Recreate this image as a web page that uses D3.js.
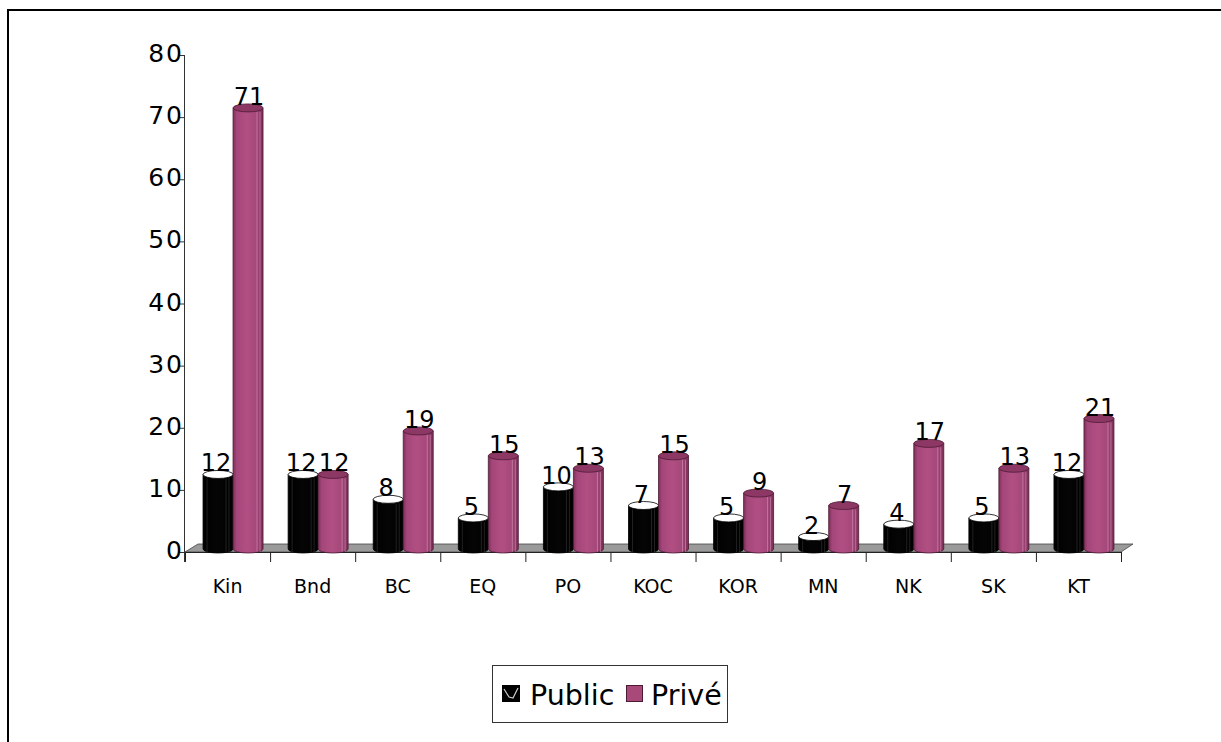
<!DOCTYPE html>
<html>
<head>
<meta charset="utf-8">
<script src="https://cdn.jsdelivr.net/npm/d3@7"></script>
<style>
  body { margin: 0; background: #fff; }
  text { font-family: "DejaVu Sans", Verdana, sans-serif; fill: #000; }
</style>
</head>
<body>
<script>
const wdth = 1221;
const hght = 742;

const categories = ["Kin", "Bnd", "BC", "EQ", "PO", "KOC", "KOR", "MN", "NK", "SK", "KT"];
const seriesNames = ["Public", "Privé"];
const publicValues = [12, 12, 8, 5, 10, 7, 5, 2, 4, 5, 12];
const priveValues = [71, 12, 19, 15, 13, 15, 9, 7, 17, 13, 21];
const yTicks = [0, 10, 20, 30, 40, 50, 60, 70, 80];

const depthX = 13;
const depthY = -8;
const cylRy = 4;

const svg = d3.select("body")
  .append("svg")
  .attr("width", wdth)
  .attr("height", hght);

const defs = svg.append("defs");
const grad = defs.append("linearGradient")
  .attr("id", "priveGrad")
  .attr("x1", "0%").attr("x2", "100%").attr("y1", "0%").attr("y2", "0%");
[["0%", "#7e2f58"], ["12%", "#a4467a"], ["45%", "#b14f82"], ["80%", "#a4477a"], ["100%", "#7a2d55"]]
  .forEach(s => grad.append("stop").attr("offset", s[0]).attr("stop-color", s[1]));

const blackGrad = defs.append("linearGradient")
  .attr("id", "publicGrad")
  .attr("x1", "0%").attr("x2", "100%").attr("y1", "0%").attr("y2", "0%");
[["0%", "#000"], ["50%", "#050505"], ["100%", "#000"]]
  .forEach(s => blackGrad.append("stop").attr("offset", s[0]).attr("stop-color", s[1]));

// frame (only top and left edges show)
svg.append("line").attr("x1", 8).attr("x2", wdth).attr("y1", 10).attr("y2", 10)
  .attr("stroke", "#000").attr("stroke-width", 2);
svg.append("line").attr("x1", 8).attr("x2", 8).attr("y1", 9).attr("y2", hght)
  .attr("stroke", "#000").attr("stroke-width", 2);

const x = d3.scaleBand().domain(categories).range([185, 1121]).padding(0);
const xSub = d3.scaleBand().domain(seriesNames).range([0, 60]).padding(0);
const y = d3.scaleLinear().domain([0, 80]).range([552, 55]);

const x0 = x.range()[0], x1 = x.range()[1], yBase = y(0);

// floor
svg.append("path")
  .attr("d", `M${x0},${yBase} L${x1},${yBase} L${x1 + depthX - 1},${yBase + depthY} L${x0 + depthX},${yBase + depthY} Z`)
  .attr("fill", "#9a9a9a")
  .attr("stroke", "#444")
  .attr("stroke-width", 0.8);

// y axis
const yAxis = d3.axisLeft(y).tickValues(yTicks).tickSize(7).tickPadding(2);
const yG = svg.append("g").attr("transform", `translate(${x0},0)`).call(yAxis);
yG.select(".domain").attr("stroke", "#333").attr("d", `M-0.5,${y(80)}V${yBase + 10}`);
yG.selectAll(".tick line").attr("stroke", "#333");
yG.selectAll(".tick text")
  .attr("font-size", 25)
  .attr("font-family", "DejaVu Sans")
  .attr("letter-spacing", "2px")
  .attr("x", -1)
  .attr("dy", "0.26em");

// x axis
svg.append("line").attr("x1", x0).attr("x2", x1).attr("y1", yBase + 0.5).attr("y2", yBase + 0.5)
  .attr("stroke", "#222");
svg.selectAll(".xtick")
  .data(categories.concat([null]))
  .enter()
  .append("line")
  .attr("class", "xtick")
  .attr("x1", (d, i) => x0 + i * x.bandwidth() + 0.5)
  .attr("x2", (d, i) => x0 + i * x.bandwidth() + 0.5)
  .attr("y1", yBase)
  .attr("y2", yBase + 10)
  .attr("stroke", "#222");
svg.selectAll(".xlabel")
  .data(categories)
  .enter()
  .append("text")
  .attr("class", "xlabel")
  .attr("x", d => x(d) + x.bandwidth() / 2)
  .attr("y", 593)
  .attr("text-anchor", "middle")
  .attr("font-size", 19)
  .text(d => d);

// cylinders
const rows = [];
categories.forEach((c, i) => {
  rows.push({ cat: c, series: "Public", value: publicValues[i] });
  rows.push({ cat: c, series: "Privé", value: priveValues[i] });
});

const pairOffset = (x.bandwidth() - 60) / 2 + depthX / 2 - 1;
const rx = xSub.bandwidth() / 2;

const cyl = svg.selectAll(".cyl")
  .data(rows)
  .enter()
  .append("g")
  .attr("class", "cyl")
  .attr("transform", d => `translate(${x(d.cat) + pairOffset + xSub(d.series) + rx},0)`);

cyl.each(function (d) {
  const g = d3.select(this);
  const isPub = d.series === "Public";
  const yb = yBase + depthY / 2 + 1;
  const yt = y(d.value) + depthY / 2 + 1;
  const body = `M${-rx},${yt} L${-rx},${yb} A${rx},${cylRy} 0 0 0 ${rx},${yb} L${rx},${yt} Z`;
  g.append("path")
    .attr("d", body)
    .attr("fill", isPub ? "url(#publicGrad)" : "url(#priveGrad)")
    .attr("stroke", isPub ? "#000" : "#4d1a36")
    .attr("stroke-width", 0.8);
  // highlight lines
  const hl = isPub ? [-rx + 4, rx - 4, rx - 7] : [rx - 6, rx - 3];
  hl.forEach(hx => {
    g.append("line")
      .attr("x1", hx).attr("x2", hx)
      .attr("y1", yt + cylRy).attr("y2", yb + cylRy - 1)
      .attr("stroke", isPub ? "#444" : "#d99bb9")
      .attr("stroke-width", 0.7)
      .attr("opacity", isPub ? 0.7 : 0.8);
  });
  g.append("ellipse")
    .attr("cx", 0).attr("cy", yt)
    .attr("rx", rx).attr("ry", cylRy)
    .attr("fill", isPub ? "#fff" : "#8d3864")
    .attr("stroke", isPub ? "#000" : "#4d1a36")
    .attr("stroke-width", 0.8);
  g.append("text")
    .attr("x", isPub ? -2 : 1)
    .attr("y", yt - 3)
    .attr("text-anchor", "middle")
    .attr("font-size", 24)
    .text(d.value);
});

// legend
const legend = svg.append("g").attr("id", "legend");
legend.append("rect")
  .attr("x", 492.5).attr("y", 665.5)
  .attr("width", 235).attr("height", 57)
  .attr("fill", "#fff")
  .attr("stroke", "#333");
legend.append("rect")
  .attr("x", 502).attr("y", 685).attr("width", 18).attr("height", 17)
  .attr("fill", "#000");
legend.append("path")
  .attr("d", "M504,689 L509,697 L513,698 L518,688")
  .attr("fill", "none").attr("stroke", "#ccc").attr("stroke-width", 1.2);
legend.append("text")
  .attr("x", 530).attr("y", 705)
  .attr("font-size", 28.5)
  .text(seriesNames[0]);
legend.append("rect")
  .attr("x", 626.5).attr("y", 685.5).attr("width", 16).attr("height", 16)
  .attr("fill", "#a8497a")
  .attr("stroke", "#4d1a36");
legend.append("text")
  .attr("x", 651).attr("y", 705)
  .attr("font-size", 28.5)
  .text(seriesNames[1]);
</script>
</body>
</html>
